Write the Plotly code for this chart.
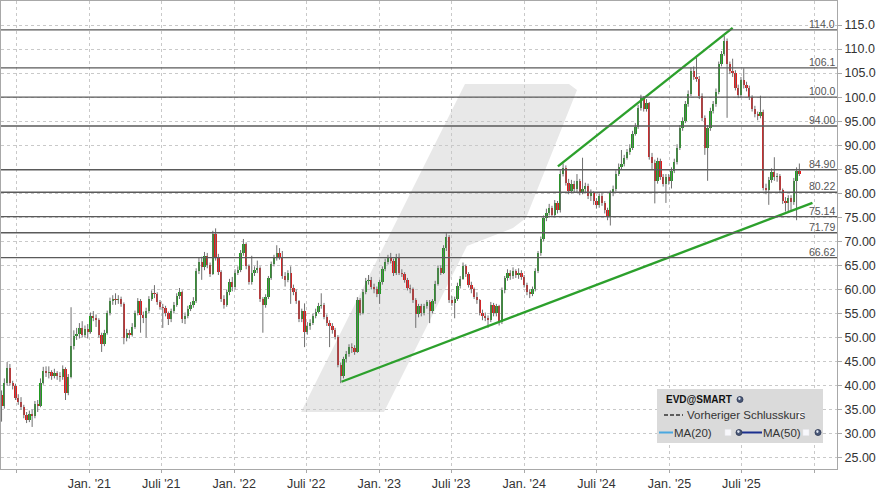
import plotly.graph_objects as go
import pandas as pd

# ---------------- data (weekly candles) ----------------
first_week = "2020-05-25"
first_open = 38.0

closes = [
    35.8, 40.6, 43.7, 40.6, 40.0, 37.5, 36.6, 35.5, 33.8, 32.9, 34.0, 33.6, 36.2, 35.8, 40.6, 43.0, 42.6, 42.8, 42.0, 42.6,
    42.0, 41.8, 43.5, 38.5, 41.8, 48.2, 50.3, 50.8, 52.0, 50.6, 51.8, 51.2, 54.5, 54.0, 53.6, 50.6, 48.6, 51.0, 55.0, 57.6,
    58.0, 57.8, 58.0, 57.0, 50.0, 51.0, 50.6, 52.2, 55.0, 57.6,
    54.6, 54.0, 55.5, 58.0, 59.2, 59.0, 57.4, 56.4, 56.2, 55.0, 53.8, 55.5, 56.8, 58.6, 59.5, 53.8, 54.5, 56.0, 56.8, 57.6,
    63.8, 65.8, 64.6, 67.0, 65.0, 63.2, 71.5, 66.5, 63.6, 58.0, 56.8, 59.5, 61.5, 60.5, 63.5, 64.0, 67.5, 69.5, 64.8, 61.6,
    63.5, 64.0, 64.5, 58.0, 56.8,
    58.5, 62.3, 65.2, 66.5, 67.5, 66.8, 62.8, 62.0, 63.5, 60.4, 59.5, 57.5, 53.8, 55.5, 51.2, 52.5, 53.0, 54.5, 55.3, 56.5,
    56.8, 54.3, 53.0, 52.5, 51.5, 50.2, 44.3, 42.0, 45.5, 46.5, 48.0, 47.8, 47.0, 57.8, 55.2, 59.5, 61.8, 62.0, 60.5, 60.0,
    59.0, 61.5, 64.2, 65.8, 66.5, 66.0, 63.5, 66.8, 63.5,
    63.2, 62.0, 60.4, 60.0, 57.8, 54.8, 56.5, 55.0, 56.5, 57.3, 55.5, 57.5, 61.2, 64.4, 63.5, 68.6, 71.0, 57.9, 57.2, 58.0,
    60.8, 62.2, 64.8, 63.2, 61.0, 60.0, 58.5, 57.8, 55.2, 54.5, 54.0, 53.6, 56.8, 55.0, 56.5, 53.2, 59.8, 62.3, 63.5, 62.8,
    63.8, 63.0, 63.5, 62.5, 61.0, 59.4, 59.0, 60.0, 63.8, 67.5, 70.5,
    74.8, 76.0, 77.0, 75.5, 77.9, 76.5, 84.1, 85.3, 82.2, 80.5, 82.0, 80.8, 82.5, 80.2, 80.8, 81.5, 79.5, 80.0, 78.5, 77.6,
    79.5, 78.0, 76.5, 75.0, 80.0, 80.8, 84.1, 85.5, 86.0, 87.4, 88.5, 89.5, 92.4, 93.8, 97.8, 99.9, 97.5, 98.8, 87.5, 86.3,
    82.6, 86.8, 83.3, 82.0, 83.3, 82.5, 84.7,
    86.5, 89.5, 93.6, 95.0, 98.6, 100.7, 105.5, 104.2, 103.8, 100.3, 95.7, 89.5, 93.6, 97.2, 98.5, 101.0, 106.9, 109.0, 111.7, 106.9,
    105.5, 105.0, 102.0, 100.5, 103.5, 102.5, 102.0, 100.0, 97.6, 96.5, 96.0, 97.0, 81.2, 80.6, 82.8, 84.5, 83.3, 83.6, 80.6, 78.5,
    77.9, 79.0, 78.2, 82.6, 84.7, 84.0,
]

highs = [
    39.0, 41.5, 44.9, 44.5, 41.0, 40.4, 38.2, 37.6, 36.0, 34.5, 34.8, 35.0, 36.8, 37.0, 41.5, 43.9, 44.0, 44.0, 43.2, 43.5,
    43.0, 42.8, 44.2, 43.8, 42.4, 56.3, 51.5, 52.0, 53.0, 53.4, 52.5, 52.8, 55.2, 55.5, 54.8, 54.0, 51.0, 51.6, 55.6, 58.3,
    58.8, 59.2, 58.8, 58.5, 57.3, 51.8, 51.6, 53.0, 55.6, 58.2,
    58.0, 55.4, 56.2, 58.6, 59.8, 60.9, 59.4, 57.8, 57.0, 56.6, 55.4, 56.0, 57.4, 59.2, 60.3, 59.8, 55.2, 56.6, 57.4, 58.4,
    64.4, 66.6, 66.8, 67.8, 67.6, 65.6, 72.2, 72.7, 67.4, 64.0, 58.8, 60.0, 62.2, 62.6, 64.2, 64.8, 68.2, 70.5, 69.8, 65.2,
    67.0, 64.8, 66.0, 64.8, 58.4,
    59.0, 62.8, 65.8, 67.2, 69.2, 68.6, 68.0, 63.6, 64.0, 64.8, 61.0, 60.0, 57.8, 56.0, 57.1, 53.2, 53.8, 55.0, 56.0, 57.2,
    59.2, 57.2, 54.8, 53.6, 53.0, 52.0, 50.5, 44.8, 46.0, 47.2, 48.6, 48.8, 48.4, 58.4, 58.2, 60.0, 62.4, 63.0, 62.6, 61.2,
    60.6, 62.0, 64.8, 66.4, 67.2, 67.6, 66.4, 67.4, 67.5,
    64.2, 63.6, 62.4, 61.0, 60.4, 58.2, 57.0, 57.0, 57.0, 57.8, 57.8, 58.0, 61.8, 65.0, 65.0, 69.2, 71.7, 71.3, 58.6, 58.5,
    61.4, 62.8, 65.6, 65.2, 63.6, 61.6, 60.4, 59.4, 58.0, 55.8, 55.2, 54.6, 57.4, 57.2, 57.0, 56.8, 60.4, 62.8, 64.2, 64.0,
    64.6, 64.2, 64.4, 64.0, 63.0, 61.4, 60.0, 60.6, 64.4, 68.0, 71.0,
    75.4, 76.8, 77.8, 77.4, 78.6, 78.4, 84.8, 86.2, 85.8, 83.0, 82.8, 82.6, 84.0, 83.0, 87.4, 82.2, 82.0, 80.8, 80.4, 79.0,
    80.0, 80.0, 78.4, 77.0, 80.6, 81.6, 84.8, 86.2, 89.0, 88.0, 89.2, 90.2, 93.0, 94.6, 98.4, 100.5, 100.2, 99.6, 99.0, 88.4,
    87.0, 87.4, 87.2, 84.0, 84.0, 84.0, 85.4,
    87.2, 90.2, 94.2, 95.8, 99.2, 101.4, 106.2, 106.4, 108.2, 104.4, 100.8, 96.2, 94.2, 97.8, 99.2, 101.8, 107.4, 109.6, 112.7, 112.2,
    107.4, 108.0, 105.6, 102.6, 104.2, 106.0, 103.2, 102.4, 100.4, 98.2, 97.0, 100.3, 97.4, 82.0, 83.4, 85.2, 87.5, 84.2, 84.0, 81.0,
    79.2, 79.6, 79.6, 83.2, 85.4, 86.2,
]

lows = [
    32.5, 35.2, 40.0, 40.0, 39.2, 37.0, 36.0, 35.0, 33.2, 32.2, 32.4, 31.4, 33.2, 34.5, 35.5, 40.2, 41.8, 41.5, 41.2, 41.5,
    41.2, 40.8, 41.2, 37.0, 38.0, 41.5, 47.5, 49.5, 49.8, 50.0, 50.0, 49.8, 50.8, 53.4, 52.2, 50.0, 47.0, 48.2, 50.6, 54.6,
    56.8, 56.8, 57.0, 56.4, 48.6, 49.2, 49.8, 50.2, 51.8, 54.6,
    51.0, 53.0, 50.0, 55.0, 57.6, 58.2, 56.8, 55.8, 52.0, 54.4, 52.6, 53.2, 55.0, 56.4, 58.0, 53.0, 52.8, 54.0, 55.5, 56.2,
    57.2, 63.2, 62.0, 64.0, 64.4, 62.6, 63.0, 66.0, 63.0, 57.4, 56.0, 56.4, 58.8, 59.6, 60.0, 63.0, 63.6, 67.0, 64.2, 61.0,
    61.0, 62.8, 63.4, 57.4, 51.0,
    56.2, 58.0, 62.0, 64.8, 66.0, 66.2, 62.2, 60.6, 61.5, 57.0, 58.8, 57.0, 53.2, 53.2, 48.0, 50.6, 51.6, 52.6, 54.0, 55.0,
    56.0, 53.8, 52.4, 48.0, 50.8, 49.6, 43.8, 40.5, 41.5, 44.8, 46.0, 46.8, 46.4, 46.8, 54.6, 54.8, 59.0, 61.0, 60.0, 59.2,
    58.4, 57.0, 61.0, 63.8, 65.2, 65.4, 62.8, 63.0, 63.0,
    62.6, 61.4, 59.8, 59.2, 57.2, 52.0, 54.2, 54.4, 54.6, 56.0, 53.0, 55.0, 57.0, 60.8, 63.0, 63.2, 68.0, 57.2, 56.6, 54.0,
    57.6, 60.2, 62.0, 62.6, 60.4, 59.2, 58.0, 57.0, 54.6, 53.6, 53.4, 52.0, 53.2, 54.4, 54.4, 52.5, 52.8, 59.2, 61.8, 62.0,
    62.2, 62.4, 62.2, 62.0, 60.4, 58.8, 58.2, 58.6, 59.6, 63.4, 67.0,
    70.0, 74.2, 75.4, 75.0, 75.0, 75.8, 76.0, 83.5, 81.6, 79.8, 80.0, 80.2, 80.2, 79.6, 79.8, 80.2, 78.8, 78.4, 77.6, 76.8,
    77.0, 77.4, 75.8, 74.4, 73.3, 79.4, 80.4, 83.6, 85.0, 85.6, 87.0, 88.0, 89.0, 92.0, 93.4, 97.2, 97.0, 97.0, 87.0, 85.0,
    77.9, 82.0, 82.8, 81.4, 78.0, 81.8, 81.0,
    84.2, 86.0, 89.0, 93.0, 94.6, 98.0, 100.2, 103.6, 103.2, 99.6, 95.0, 88.0, 82.6, 93.0, 96.6, 98.0, 100.6, 106.4, 108.6, 95.7,
    104.8, 104.2, 101.4, 99.8, 100.0, 101.8, 101.2, 99.4, 97.0, 95.8, 95.2, 95.6, 80.6, 79.8, 77.6, 82.2, 82.6, 82.4, 80.0, 77.8,
    76.2, 76.0, 76.4, 77.6, 74.4, 83.6,
]

level_values = [114.0, 106.1, 100.0, 94.00, 84.90, 80.22, 75.14, 71.79, 66.62]
level_labels = ["114.0", "106.1", "100.0", "94.00", "84.90", "80.22", "75.14", "71.79", "66.62"]

support_dates = ["2022-09-28", "2025-12-27"]
support_values = [40.8, 78.0]
resist_dates = ["2024-03-26", "2025-06-09"]
resist_values = [85.6, 114.4]

y_tick_values = [25, 30, 35, 40, 45, 50, 55, 60, 65, 70, 75, 80, 85, 90, 95, 100, 105, 110, 115]
y_tick_labels = ["25.00", "30.00", "35.00", "40.00", "45.00", "50.00", "55.00", "60.00", "65.00", "70.00",
                 "75.00", "80.00", "85.00", "90.00", "95.00", "100.0", "105.0", "110.0", "115.0"]
x_tick_dates = ["2020-07-01", "2021-01-01", "2021-07-01", "2022-01-01", "2022-07-01", "2023-01-01",
                "2023-07-01", "2024-01-01", "2024-07-01", "2025-01-01", "2025-07-01", "2026-01-01"]
x_tick_labels = ["", "Jan. '21", "Juli '21", "Jan. '22", "Juli '22", "Jan. '23",
                 "Juli '23", "Jan. '24", "Juli '24", "Jan. '25", "Juli '25", ""]

# ---------------- derived ----------------
dates = pd.date_range(first_week, periods=len(closes), freq="7D")
opens = [first_open] + closes[:-1]

UP = "#1f9c1f"
DOWN = "#e5191b"
WICK = "#6f6f6f"
FONT = "Liberation Sans, Arial, sans-serif"

wx, wy = [], []
for d, h, l in zip(dates, highs, lows):
    wx += [d, d, None]
    wy += [l, h, None]

body_base = [min(o, c) for o, c in zip(opens, closes)]
body_len = [max(abs(c - o), 0.2) for o, c in zip(opens, closes)]
body_col = [UP if c >= o else DOWN for o, c in zip(opens, closes)]

fig = go.Figure()
fig.add_trace(go.Scatter(x=wx, y=wy, mode="lines", line=dict(color=WICK, width=1),
                         hoverinfo="skip", showlegend=False))
fig.add_trace(go.Bar(x=dates, y=body_len, base=body_base, marker=dict(color=body_col, line=dict(width=0)),
                     width=5.8 * 86400000, showlegend=False))

# trend lines
fig.add_trace(go.Scatter(x=support_dates, y=support_values, mode="lines",
                         line=dict(color="#2ca02c", width=2.4), showlegend=False))
fig.add_trace(go.Scatter(x=resist_dates, y=resist_values, mode="lines",
                         line=dict(color="#2ca02c", width=2.4), showlegend=False))

# ---------------- layout geometry ----------------
W_FIG, H_FIG = 880, 496
ML, MR, MT, MB = 1, 43, 1, 27
PW, PH = W_FIG - ML - MR, H_FIG - MT - MB


def px(x):
    return (x - ML) / PW


def py(y):
    return (MT + PH - y) / PH


shapes = []
annotations = []

# watermark
wm = [(301, 412), (465, 84), (569, 84), (577, 90), (526, 218), (513, 228), (467, 246), (384, 412)]
path = "M " + " L ".join(f"{px(a):.4f},{py(b):.4f}" for a, b in wm) + " Z"
shapes.append(dict(type="path", path=path, xref="paper", yref="paper",
                   fillcolor="#e8e8e8", line=dict(width=0), layer="below"))

# horizontal levels
for v, t in zip(level_values, level_labels):
    shapes.append(dict(type="line", xref="paper", yref="y", x0=0, x1=1, y0=v, y1=v,
                       line=dict(color="#5a5a5a", width=1.3), layer="above"))
    annotations.append(dict(xref="paper", yref="y", x=1, y=v, text=t, showarrow=False,
                            xanchor="right", yanchor="bottom", xshift=0, yshift=-2,
                            font=dict(family=FONT, size=10.5, color="#555555")))

# legend box
shapes.append(dict(type="rect", xref="paper", yref="paper", x0=px(657), x1=px(823), y0=py(443), y1=py(389),
                   fillcolor="#dadada", line=dict(width=0), layer="above"))
annotations.append(dict(xref="paper", yref="paper", x=px(664), y=py(399.5), text="<b>EVD@SMART</b>",
                        showarrow=False, xanchor="left", yanchor="middle",
                        font=dict(family=FONT, size=10, color="#111111")))
shapes.append(dict(type="line", xref="paper", yref="paper", x0=px(664), x1=px(683), y0=py(415), y1=py(415),
                   line=dict(color="#333333", width=1.5, dash="4px,2px"), layer="above"))
annotations.append(dict(xref="paper", yref="paper", x=px(685), y=py(415), text="Vorheriger Schlusskurs",
                        showarrow=False, xanchor="left", yanchor="middle",
                        font=dict(family=FONT, size=11.5, color="#333333")))
shapes.append(dict(type="line", xref="paper", yref="paper", x0=px(659), x1=px(673), y0=py(432.5), y1=py(432.5),
                   line=dict(color="#4aa8e0", width=2), layer="above"))
annotations.append(dict(xref="paper", yref="paper", x=px(672), y=py(432.5), text="MA(20)",
                        showarrow=False, xanchor="left", yanchor="middle",
                        font=dict(family=FONT, size=11.5, color="#333333")))
shapes.append(dict(type="line", xref="paper", yref="paper", x0=px(742), x1=px(762), y0=py(432.5), y1=py(432.5),
                   line=dict(color="#1b2f8f", width=2), layer="above"))
annotations.append(dict(xref="paper", yref="paper", x=px(761), y=py(432.5), text="MA(50)",
                        showarrow=False, xanchor="left", yanchor="middle",
                        font=dict(family=FONT, size=11.5, color="#333333")))
# check boxes
for cx, cy in [(801, 415), (728, 432.5), (806, 432.5)]:
    shapes.append(dict(type="rect", xref="paper", yref="paper", x0=px(cx - 3), x1=px(cx + 3),
                       y0=py(cy + 3), y1=py(cy - 3), fillcolor="#f8f8fc",
                       line=dict(color="#e8e8ee", width=0.5), layer="above"))
# little icons
for cx, cy in [(740, 399.5), (739, 432.5), (818, 432.5)]:
    shapes.append(dict(type="circle", xref="paper", yref="paper", x0=px(cx - 3), x1=px(cx + 3),
                       y0=py(cy + 3), y1=py(cy - 3), fillcolor="#4a5878",
                       line=dict(color="#2a3550", width=0.8), layer="above"))
    shapes.append(dict(type="circle", xref="paper", yref="paper", x0=px(cx - 1.8), x1=px(cx + 0.6),
                       y0=py(cy + 0.4), y1=py(cy - 2.2), fillcolor="#dfe6f2",
                       line=dict(width=0), layer="above"))

fig.update_layout(
    width=W_FIG, height=H_FIG,
    margin=dict(l=ML, r=MR, t=MT, b=MB, autoexpand=False),
    plot_bgcolor="white", paper_bgcolor="white",
    showlegend=False, bargap=0, barmode="overlay",
    shapes=shapes, annotations=annotations,
    font=dict(family=FONT, size=12, color="#333333"),
    xaxis=dict(
        type="date", range=["2020-05-23 14:00", "2026-02-26 19:00"],
        tickmode="array", tickvals=x_tick_dates, ticktext=x_tick_labels,
        showgrid=True, gridcolor="#c9c9c9", griddash="dot", gridwidth=1,
        showline=True, linecolor="#a8a8a8", linewidth=1, mirror=True,
        ticks="outside", ticklen=3, tickcolor="#a8a8a8",
        tickfont=dict(family=FONT, size=12.5, color="#333333"),
        zeroline=False, fixedrange=True, rangeslider=dict(visible=False),
    ),
    yaxis=dict(
        side="right", range=[22.65, 120.0],
        tickmode="array", tickvals=y_tick_values, ticktext=y_tick_labels,
        showgrid=True, gridcolor="#c9c9c9", griddash="dot", gridwidth=1,
        showline=True, linecolor="#a8a8a8", linewidth=1, mirror=True,
        ticks="outside", ticklen=4, tickcolor="#a8a8a8",
        tickfont=dict(family=FONT, size=12.5, color="#333333"),
        zeroline=False, fixedrange=True,
    ),
)

fig.write_html("out.html", config={"displayModeBar": False, "staticPlot": True},
               post_script="document.body.style.margin='0px';document.body.style.overflow='hidden';")
